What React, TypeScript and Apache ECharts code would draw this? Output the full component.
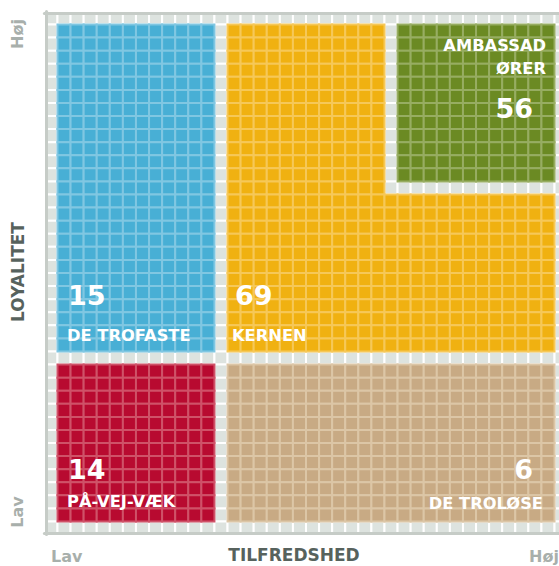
import React, { useEffect, useRef } from "react";
import * as echarts from "echarts";

// ---- data ----
const gridSize = 40; // cells per side
const columnKeys = Array.from({ length: gridSize }, (_, i) => String(i));
const rowKeys = Array.from({ length: gridSize }, (_, i) => String(i));

const segmentNames = ["DE TROFASTE", "KERNEN", "AMBASSADØRER", "PÅ-VEJ-VÆK", "DE TROLØSE"];
const segmentValues = [15, 69, 56, 14, 6];
// cell blocks per segment: [colFrom, colTo, rowFrom, rowTo] (rows counted from top)
const segmentBlocks = [
  [[1, 12, 1, 25]],
  [[14, 25, 1, 25], [26, 38, 14, 25]],
  [[27, 38, 1, 12]],
  [[1, 12, 27, 38]],
  [[14, 38, 27, 38]],
];
const axisLow = "Lav";
const axisHigh = "Høj";
const xTitle = "TILFREDSHED";
const yTitle = "LOYALITET";

// ---- styles ----
const segmentFill = ["#48afd5", "#f0b111", "#6b8a23", "#b80a30", "#c8aa84"];
const segmentGap = ["#80c7e2", "#f6c858", "#97ad62", "#cf5268", "#dcc6a6"];
const bgFill = "#dde3df";
const bgGap = "#ffffff";
const borderColor = "#c6ccc7";
const FONT = "DejaVu Sans";

function cellsOf(blocks: number[][]) {
  const out: number[][] = [];
  blocks.forEach(([c0, c1, r0, r1]) => {
    for (let c = c0; c <= c1; c++) for (let r = r0; r <= r1; r++) out.push([c, r]);
  });
  return out;
}

const makeRender = (fill: string, gap: string) => (_p: any, api: any) => {
  const c = api.coord([api.value(0), api.value(1)]);
  const s = api.size([1, 1]);
  return {
    type: "rect",
    shape: { x: c[0] - s[0] / 2, y: c[1] - s[1] / 2, width: s[0], height: s[1] },
    style: { fill, stroke: gap, lineWidth: 2 },
  };
};

export default function App() {
  const ref = useRef<HTMLDivElement>(null);
  useEffect(() => {
    if (!ref.current) return;
    const chart = echarts.init(ref.current, undefined, { renderer: "svg" });
    const allCells: number[][] = [];
    for (let c = 0; c < gridSize; c++) for (let r = 0; r < gridSize; r++) allCells.push([c, r]);

    const series: any[] = [
      {
        type: "custom",
        name: "bg",
        data: allCells,
        renderItem: makeRender(bgFill, bgGap),
        silent: true,
        z: 1,
      },
    ];
    segmentNames.forEach((name, i) => {
      series.push({
        type: "custom",
        name,
        data: cellsOf(segmentBlocks[i]),
        renderItem: makeRender(segmentFill[i], segmentGap[i]),
        silent: true,
        z: 2,
      });
    });

    const white = (text: string, x: number, y: number, size: number, align: string) => ({
      type: "text",
      x,
      y,
      z: 20,
      style: {
        text,
        fill: "#ffffff",
        font: `bold ${size}px "${FONT}"`,
        align,
        verticalAlign: "middle",
      },
    });
    const gray = (text: string, x: number, y: number, size: number, color: string, align: string, rot = 0) => ({
      type: "text",
      x,
      y,
      rotation: rot,
      z: 20,
      style: {
        text,
        fill: color,
        font: `bold ${size}px "${FONT}"`,
        align,
        verticalAlign: "middle",
      },
    });
    const lightGray = "#a8afab";
    const darkGray = "#57625d";

    const axisLineCfg = { show: true, lineStyle: { color: borderColor, width: 3 } };

    chart.setOption({
      animation: false,
      grid: { left: 44.4, top: 11.4, width: 523.2, height: 523.2 },
      xAxis: [
        {
          type: "category",
          data: columnKeys,
          position: "bottom",
          offset: -1.6,
          axisLine: axisLineCfg,
          axisTick: { show: false },
          axisLabel: { show: false },
          splitLine: { show: false },
          z: 10,
        },
        {
          type: "category",
          data: columnKeys,
          position: "top",
          offset: -2,
          axisLine: axisLineCfg,
          axisTick: { show: false },
          axisLabel: { show: false },
          splitLine: { show: false },
          z: 10,
        },
      ],
      yAxis: {
        type: "category",
        data: rowKeys,
        inverse: true,
        offset: -1.4,
        axisLine: axisLineCfg,
        axisTick: { show: false },
        axisLabel: { show: false },
        splitLine: { show: false },
        z: 10,
      },
      series,
      graphic: [
        // segment labels
        white(String(segmentValues[0]), 68, 295, 27, "left"),
        white(segmentNames[0], 67, 335, 16.3, "left"),
        white(String(segmentValues[1]), 235, 295, 27, "left"),
        white(segmentNames[1], 232, 335, 16.3, "left"),
        white("AMBASSAD", 546, 45, 16.3, "right"),
        white("ØRER", 546, 68, 16.3, "right"),
        white(String(segmentValues[2]), 533, 108, 27, "right"),
        white(String(segmentValues[3]), 68, 469, 27, "left"),
        white(segmentNames[3], 67, 501, 16.3, "left"),
        white(String(segmentValues[4]), 533, 469, 27, "right"),
        white(segmentNames[4], 543, 503, 16.3, "right"),
        // axis texts
        gray(axisHigh, 17.5, 34, 16, lightGray, "center", Math.PI / 2),
        gray(yTitle, 17.5, 272, 17, darkGray, "center", Math.PI / 2),
        gray(axisLow, 17.5, 512, 16, lightGray, "center", Math.PI / 2),
        gray(axisLow, 51, 556, 16, lightGray, "left"),
        gray(xTitle, 294, 555, 17, darkGray, "center"),
        gray(axisHigh, 529, 556, 16, lightGray, "left"),
      ],
    });
    return () => chart.dispose();
  }, []);
  return (
    <div
      ref={ref}
      style={{ position: "fixed", left: 0, top: 0, width: 580, height: 566, background: "#ffffff" }}
    />
  );
}
